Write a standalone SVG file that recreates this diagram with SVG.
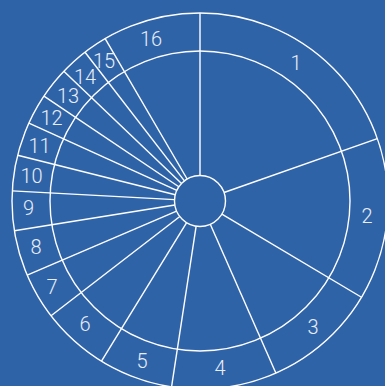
<svg xmlns="http://www.w3.org/2000/svg" width="385" height="386" viewBox="0 0 385 386">
<style>
.ln{stroke:#ffffff;stroke-width:1.4;fill:none}
.lb{font-family:Roboto,"Liberation Sans",Arial,sans-serif;font-weight:300;font-size:20px;fill:#e8eef7;text-anchor:middle;dominant-baseline:central}
</style>
<rect width="385" height="386" fill="#2f63a8"/>
<g id="rings">
<circle class="ln" cx="200" cy="201" r="188"/>
<circle class="ln" cx="200" cy="201" r="150"/>
<circle id="hub" class="ln" cx="200" cy="201" r="25.5"/>
</g>
<g id="connectors">
<line class="ln" x1="200" y1="175.5" x2="200" y2="13"/>
<line class="ln" x1="224.05" y1="192.53" x2="377.32" y2="138.55"/>
<line class="ln" x1="221.9" y1="214.06" x2="361.49" y2="297.26"/>
<line class="ln" x1="210.29" y1="224.33" x2="275.86" y2="373.02"/>
<line class="ln" x1="196.14" y1="226.21" x2="171.56" y2="386.84"/>
<line class="ln" x1="186.64" y1="222.72" x2="101.49" y2="361.12"/>
<line class="ln" x1="179.8" y1="216.56" x2="51.05" y2="315.7"/>
<line class="ln" x1="176.56" y1="211.04" x2="27.21" y2="275.05"/>
<line class="ln" x1="174.82" y1="205.03" x2="14.37" y2="230.74"/>
<line class="ln" x1="174.54" y1="199.62" x2="12.28" y2="190.83"/>
<line class="ln" x1="175.27" y1="194.79" x2="17.66" y2="155.2"/>
<line class="ln" x1="176.8" y1="190.43" x2="28.92" y2="123.04"/>
<line class="ln" x1="178.84" y1="186.78" x2="43.96" y2="96.15"/>
<line class="ln" x1="181.53" y1="183.41" x2="63.85" y2="71.36"/>
<line class="ln" x1="184.41" y1="180.82" x2="85.04" y2="52.25"/>
<line class="ln" x1="187.14" y1="178.98" x2="105.15" y2="38.68"/>
</g>
<g id="labels">
<g id="s1"><text class="lb" x="296" y="62.5">1</text></g>
<g id="s2"><text class="lb" x="367" y="215.5">2</text></g>
<g id="s3"><text class="lb" x="313" y="327">3</text></g>
<g id="s4"><text class="lb" x="220" y="367.5">4</text></g>
<g id="s5"><text class="lb" x="142" y="361">5</text></g>
<g id="s6"><text class="lb" x="85" y="323.5">6</text></g>
<g id="s7"><text class="lb" x="52" y="286.5">7</text></g>
<g id="s8"><text class="lb" x="36" y="246.5">8</text></g>
<g id="s9"><text class="lb" x="28.5" y="208">9</text></g>
<g id="s10"><text class="lb" x="31.5" y="176">10</text></g>
<g id="s11"><text class="lb" x="39.5" y="145.5">11</text></g>
<g id="s12"><text class="lb" x="51.5" y="118">12</text></g>
<g id="s13"><text class="lb" x="68" y="96">13</text></g>
<g id="s14"><text class="lb" x="85" y="77">14</text></g>
<g id="s15"><text class="lb" x="104" y="60.5">15</text></g>
<g id="s16"><text class="lb" x="151" y="38.5">16</text></g>
</g>
</svg>
